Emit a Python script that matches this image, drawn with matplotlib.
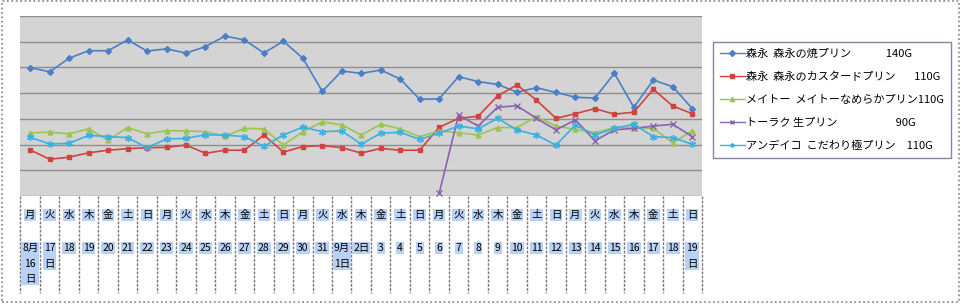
import numpy as np
import matplotlib
matplotlib.use("Agg")
from matplotlib import pyplot as plt
from matplotlib.patches import Rectangle
from matplotlib.lines import Line2D

plt.rcParams['font.family'] = ['Noto Sans CJK JP', 'DejaVu Sans']

# 曜日と日付 (8/16 - 9/19)
days = ['月', '火', '水', '木', '金', '土', '日'] * 5
dates = ['8月\n16\n日', '17\n日', '18', '19', '20', '21', '22', '23', '24', '25',
         '26', '27', '28', '29', '30', '31', '9月\n1日', '2日', '3', '4', '5', '6',
         '7', '8', '9', '10', '11', '12', '13', '14', '15', '16', '17', '18', '19\n日']

names = ['森永  森永の焼プリン\u3000\u3000     140G',
         '森永  森永のカスタードプリン\u3000   110G',
         'メイトー  メイトーなめらかプリン110G',
         'トーラク 生プリン\u3000\u3000\u3000\u3000\u3000 90G',
         'アンデイコ  こだわり極プリン\u3000110G']

morinaga_yaki = [49.9, 48.3, 53.6, 56.5, 56.5, 60.7, 56.4, 57.2, 55.6, 58.1, 62.2, 60.7,
                 55.6, 60.2, 53.6, 40.7, 48.6, 47.7, 49.0, 45.5, 37.6, 37.8, 46.4, 44.5,
                 43.4, 40.4, 42.1, 40.3, 38.4, 38.1, 47.7, 34.5, 45.1, 42.5, 34.0]
morinaga_custard = [17.9, 14.3, 15.1, 16.8, 17.8, 18.4, 18.8, 18.9, 19.8, 16.6, 17.8, 17.8,
                    23.7, 17.1, 19.2, 19.6, 18.8, 16.7, 18.5, 17.8, 17.8, 26.7, 30.2, 31.0,
                    38.9, 43.2, 37.3, 30.2, 32.0, 34.0, 31.8, 32.6, 41.5, 35.0, 32.0]
meito = [24.6, 24.8, 24.2, 26.1, 21.8, 26.6, 24.2, 25.4, 25.3, 25.0, 23.3, 26.3,
         26.1, 19.8, 25.0, 28.8, 27.7, 23.7, 27.9, 26.1, 23.1, 25.3, 24.6, 23.7,
         26.6, 26.6, 30.8, 27.2, 25.9, 24.6, 26.6, 26.6, 26.3, 20.7, 25.3]
toraku = [np.nan] * 21 + [1.0, 31.5, 27.2, 34.5, 35.1, 30.2, 25.7, 29.6, 21.5, 25.7,
                          26.3, 27.2, 27.9, 23.1]
andeico = [22.8, 20.2, 20.5, 23.6, 23.1, 22.7, 18.8, 22.2, 22.4, 23.8, 23.7, 23.1,
           19.3, 23.7, 26.8, 25.0, 25.3, 20.2, 24.4, 24.8, 22.0, 24.4, 27.2, 26.1,
           30.2, 25.7, 23.7, 19.8, 27.6, 23.7, 26.3, 27.9, 23.1, 22.7, 20.1]

series = [morinaga_yaki, morinaga_custard, meito, toraku, andeico]
colors = ['#4a7fc8', '#d0443f', '#9cc44f', '#8a62b0', '#3cb0e0']
markers = ['D', 's', '^', 'x', (6, 2, 0)]
msizes = [3, 3, 3.5, 4.5, 5]

fig = plt.figure(figsize=(9.62, 3.04), dpi=100)
ax = fig.add_axes([0.0213, 0.3553, 0.7084, 0.592])
ax.set_facecolor('#d4d4d4')

x = np.arange(len(dates))
for vals, name, c, m, ms in zip(series, names, colors, markers, msizes):
    ax.plot(x, vals, color=c, lw=1.2, marker=m, ms=ms, mew=1, label=name)

ax.set_xlim(-0.5, len(dates) - 0.5)
ax.set_ylim(0, 70)
ax.set_yticks(np.arange(0, 71, 10))
ax.yaxis.grid(True, color='#8e8e8e', lw=1)
ax.set_axisbelow(True)
ax.set_xticks([])
ax.tick_params(left=False, labelleft=False)
for s in ax.spines.values():
    s.set_visible(False)

# 下の表 (曜日・日付)
trans = ax.get_xaxis_transform()
hl = dict(boxstyle='square,pad=0.1', fc='#b9d1f5', ec='none')
for i in range(len(dates) + 1):
    ax.plot([i - 0.5, i - 0.5], [0, -0.54], transform=trans, color='#7a7a7a',
            lw=1, ls=(0, (2, 1)), clip_on=False)
for i, (d, t) in enumerate(zip(days, dates)):
    ax.text(i, -0.105, d, transform=trans, ha='center', va='center',
            fontsize=7.5, bbox=hl)
    multi = '\n' in t
    ax.text(i, -0.263 if multi else -0.29, t, transform=trans, ha='center',
            va='top' if multi else 'center', fontsize=7.5, linespacing=1.65, bbox=hl)

handles = [Line2D([], [], color=c, lw=1, marker=m, ms=3) for c, m in zip(colors, markers)]
leg = fig.legend(handles, names, loc='upper left', bbox_to_anchor=(0.741, 0.862),
                 borderaxespad=0, frameon=True, fancybox=False, fontsize=8,
                 handlelength=2.3, handletextpad=0.1, labelspacing=1.15, borderpad=0.6)
leg.get_frame().set_edgecolor('#5b6a95')
leg.get_frame().set_linewidth(1)

fig.patches.append(Rectangle((0.002, 0.006), 0.995, 0.99, transform=fig.transFigure,
                             fill=False, ec='#808080', ls=':', lw=1.2))

plt.savefig('out.png', dpi=100)
